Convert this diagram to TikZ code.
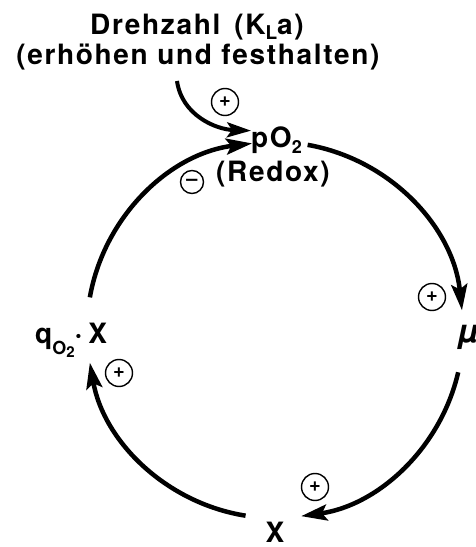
\documentclass[tikz,border=0pt]{standalone}
\usepackage{fontspec}
\setmainfont{TeX Gyre Heros}[LetterSpace=6]
\usepackage{tikz}
\usetikzlibrary{arrows.meta,calc}
\newcommand{\sbs}[3]{\raisebox{-#2}{\fontsize{#1}{#1}\selectfont #3}}
\tikzset{
  lbl/.style={inner sep=0pt, font=\fontsize{28}{28}\selectfont\bfseries},
  sign/.style={circle, draw, line width=1.4pt, minimum size=27pt,
               inner sep=0pt, font=\fontsize{20}{20}\selectfont\bfseries},
  cyc/.style={line width=4.5pt, -{Stealth[length=26pt,width=16pt,inset=5pt]}},
  feed/.style={line width=4pt, -{Stealth[length=24pt,width=15pt,inset=5pt]}},
}

\begin{document}
\begin{tikzpicture}[x=1pt, y=1pt]
\useasboundingbox (0,0) rectangle (475,547);
\coordinate (ctr) at (275,217);

\node[lbl, anchor=base] (drehzahl) at (197,512) {Drehzahl\hspace{14pt}(K\sbs{19}{5pt}{L}a)};
\node[lbl, anchor=base] (halten) at (198,482) {(erhöhen und festhalten)};
\coordinate (kla-in) at (177,466);

\node[lbl, anchor=base west] (po2) at (251,399) {pO\sbs{18}{6pt}{2}};
\node[lbl, anchor=base] (redox) at (273,365) {(Redox)};
\node[lbl, anchor=base west] (mu) at (458,204) {\fontsize{32}{32}\selectfont\itshape µ};
\node[lbl, anchor=base] (xbio) at (275,5) {X};
\node[lbl, anchor=base west] (qox) at (35,203) {q\sbs{18}{11pt}{O\sbs{15}{3pt}{2}}·\hspace{6pt}X};

\node[sign] (s-kla) at (225,445) {+};
\node[sign, minimum size=23pt] (s-redox) at (192,365) {–};
\node[sign] (s-mu) at (432,250) {+};
\node[sign] (s-x) at (315,60) {+};
\node[sign] (s-qox) at (119,174) {+};

\draw[feed] (kla-in) to[out=-82, in=178] ([yshift=10pt]po2.west);
\draw[cyc] ($(ctr)+(170:188)$) arc[start angle=170, end angle=97, radius=188];
\draw[cyc] ($(ctr)+(80:188)$) arc[start angle=80, end angle=6, radius=188];
\draw[cyc] ($(ctr)+(-13:188)$) arc[start angle=-13, end angle=-82, radius=188];
\draw[cyc] ($(ctr)+(-99:188)$) arc[start angle=-99, end angle=-170, radius=188];
\end{tikzpicture}
\end{document}
